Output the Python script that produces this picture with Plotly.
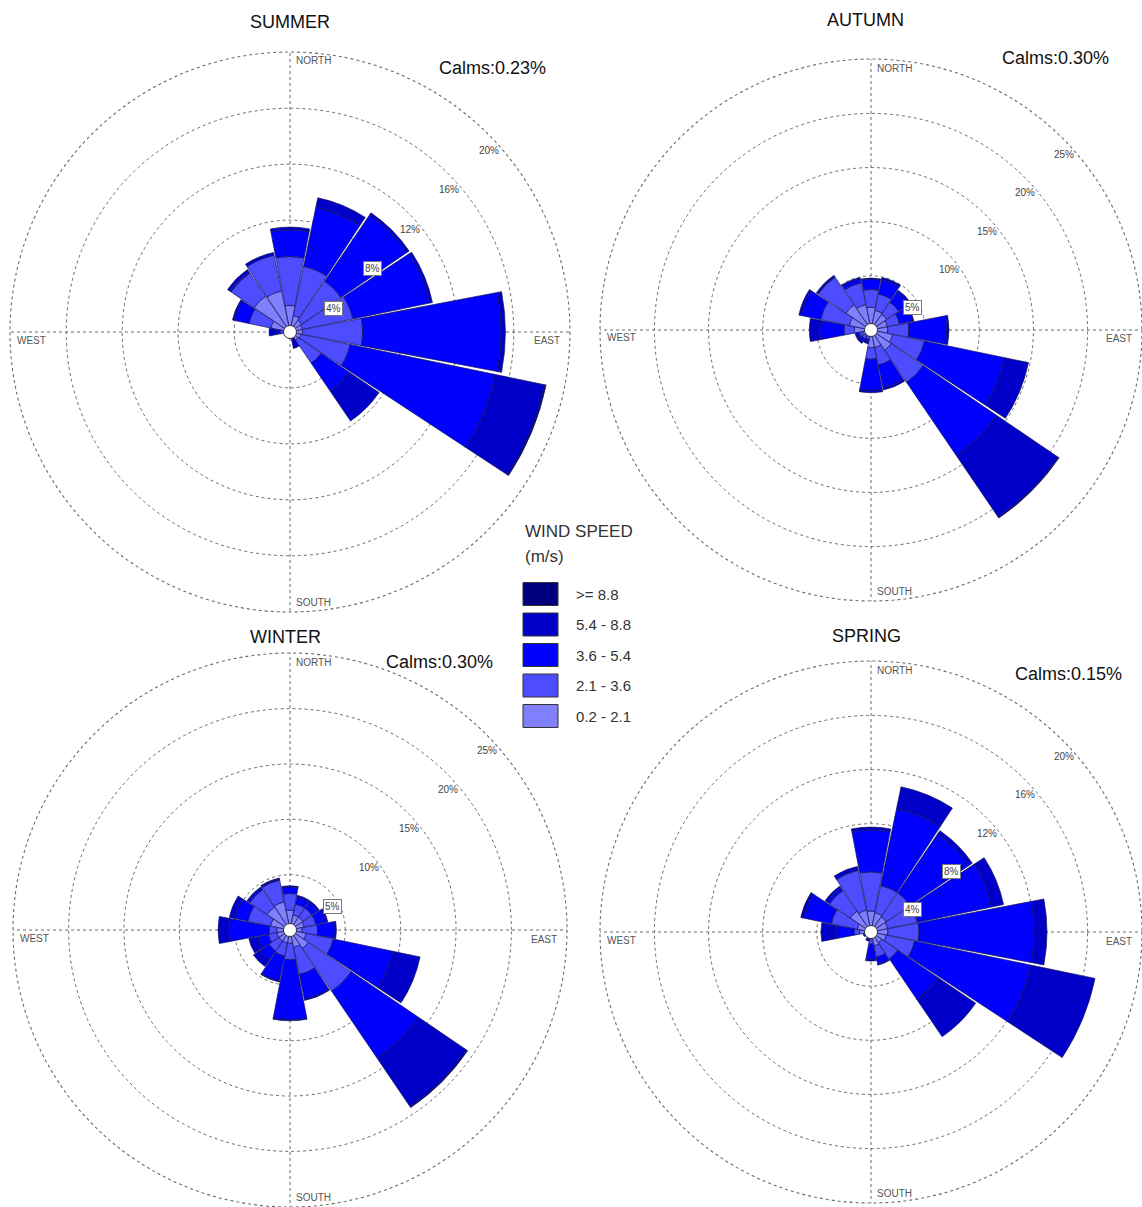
import plotly.graph_objects as go

W, H = 1142, 1207
FONT = "Arial, 'Liberation Sans', sans-serif"

directions = ["N", "NNE", "NE", "ENE", "E", "ESE", "SE", "SSE",
              "S", "SSW", "SW", "WSW", "W", "WNW", "NW", "NNW"]
dir_angles = [i * 22.5 for i in range(len(directions))]

speed_labels = ["0.2 - 2.1", "2.1 - 3.6", "3.6 - 5.4", "5.4 - 8.8", ">= 8.8"]
speed_colors = ["#8080FF", "#4D4DFF", "#0000FF", "#0000C8", "#00007F"]

# Frequency (%) per direction for each wind-speed class (N, NNE, ..., NNW)
summer_c1 = [1.9, 1.2, 1.0, 0.9, 0.9, 0.8, 0.7, 0.45, 0.2, 0.2, 0.2, 0.25, 0.5, 1.4, 3.1, 3.0]
summer_c2 = [3.5, 3.6, 3.4, 3.7, 4.3, 3.6, 2.0, 0.05, 0.05, 0.05, 0.05, 0.05, 0.2, 1.6, 2.0, 2.6]
summer_c3 = [1.9, 4.3, 5.7, 5.6, 9.9, 10.6, 2.4, 0.1, 0.05, 0.05, 0.05, 0.05, 0.3, 1.1, 0.1, 0.0]
summer_c4 = [0.2, 0.7, 0.2, 0.2, 0.3, 3.6, 2.6, 0.6, 0.0, 0.0, 0.0, 0.05, 0.5, 0.1, 0.2, 0.2]
summer_c5 = [0.0, 0.0, 0.0, 0.0, 0.0, 0.1, 0.0, 0.0, 0.0, 0.0, 0.0, 0.0, 0.0, 0.0, 0.0, 0.0]

autumn_c1 = [2.1, 1.85, 1.75, 1.55, 1.55, 2.05, 2.25, 1.65, 1.65, 0.6, 0.7, 0.8, 1.55, 2.05, 2.8, 2.4]
autumn_c2 = [1.65, 1.55, 1.35, 1.15, 1.95, 3.0, 3.6, 1.65, 1.05, 0.3, 0.3, 0.3, 0.95, 2.7, 3.1, 2.05]
autumn_c3 = [0.95, 1.35, 1.15, 1.25, 3.5, 7.55, 8.15, 2.15, 2.9, 0.2, 0.3, 0.2, 2.25, 1.85, 0.1, 0.4]
autumn_c4 = [0.1, 0.2, 0.2, 0.1, 0.2, 2.25, 6.9, 0.2, 0.2, 0.2, 0.2, 0.2, 0.95, 0.2, 0.1, 0.1]
autumn_c5 = [0.0, 0.0, 0.0, 0.0, 0.0, 0.0, 0.1, 0.0, 0.0, 0.0, 0.0, 0.0, 0.0, 0.0, 0.0, 0.0]

winter_c1 = [1.8, 1.4, 1.4, 1.3, 1.1, 1.5, 2.0, 1.6, 1.2, 1.2, 1.2, 1.2, 1.2, 1.8, 2.5, 2.6]
winter_c2 = [1.5, 1.0, 1.0, 1.1, 1.4, 2.5, 4.7, 2.5, 1.5, 1.2, 1.1, 0.8, 0.7, 2.1, 1.9, 2.0]
winter_c3 = [0.6, 0.6, 0.6, 0.9, 1.6, 5.5, 7.3, 2.3, 5.4, 2.3, 1.0, 1.0, 3.6, 1.2, 0.2, 0.1]
winter_c4 = [0.1, 0.2, 0.2, 0.2, 0.1, 2.5, 5.3, 0.1, 0.1, 0.1, 0.7, 0.8, 1.0, 0.5, 0.1, 0.1]
winter_c5 = [0.0, 0.0, 0.0, 0.0, 0.0, 0.0, 0.1, 0.0, 0.0, 0.0, 0.0, 0.0, 0.0, 0.0, 0.0, 0.0]

spring_c1 = [1.55, 1.45, 1.35, 1.25, 1.25, 1.15, 0.95, 1.05, 0.6, 0.4, 0.3, 0.4, 0.85, 1.05, 1.85, 1.65]
spring_c2 = [2.9, 2.05, 2.15, 2.25, 2.3, 2.15, 1.45, 0.85, 0.3, 0.1, 0.1, 0.05, 0.4, 1.95, 1.85, 3.0]
spring_c3 = [3.1, 5.8, 5.25, 5.6, 8.5, 8.75, 3.6, 0.5, 1.15, 0.1, 0.05, 0.05, 1.35, 2.05, 0.2, 0.0]
spring_c4 = [0.2, 1.65, 0.3, 0.9, 0.95, 4.85, 3.35, 0.1, 0.1, 0.1, 0.05, 0.1, 1.1, 0.25, 0.2, 0.3]
spring_c5 = [0.0, 0.0, 0.0, 0.0, 0.0, 0.0, 0.0, 0.0, 0.0, 0.0, 0.0, 0.0, 0.0, 0.0, 0.0, 0.0]

summer_ticks = [4, 8, 12, 16, 20]
autumn_ticks = [5, 10, 15, 20, 25]
winter_ticks = [5, 10, 15, 20, 25]
spring_ticks = [4, 8, 12, 16, 20]

calms = {"SUMMER": "0.23", "AUTUMN": "0.30", "WINTER": "0.30", "SPRING": "0.15"}

# Each rose: polar key, title, class series, ring ticks, centre (px), radius (px),
# title / calms text positions (px), number of boxed ring labels
roses = [
    dict(key="polar", name="SUMMER",
         series=[summer_c1, summer_c2, summer_c3, summer_c4, summer_c5],
         ticks=summer_ticks, cx=290, cy=332, R=280,
         title_xy=(290, 22), calms_xy=(492, 68), boxed=2),
    dict(key="polar2", name="AUTUMN",
         series=[autumn_c1, autumn_c2, autumn_c3, autumn_c4, autumn_c5],
         ticks=autumn_ticks, cx=871, cy=330, R=271,
         title_xy=(865, 20), calms_xy=(1055, 58), boxed=1),
    dict(key="polar3", name="WINTER",
         series=[winter_c1, winter_c2, winter_c3, winter_c4, winter_c5],
         ticks=winter_ticks, cx=290, cy=930, R=277,
         title_xy=(285, 637), calms_xy=(440, 662), boxed=1),
    dict(key="polar4", name="SPRING",
         series=[spring_c1, spring_c2, spring_c3, spring_c4, spring_c5],
         ticks=spring_ticks, cx=871, cy=932, R=271,
         title_xy=(866, 636), calms_xy=(1068, 674), boxed=2),
]

GRID = "#6A6A6A"


def px(x):
    return x / W


def py(y):
    return 1 - y / H


fig = go.Figure()
annotations = []
shapes = []
layout_polars = {}

for rose in roses:
    key = rose["key"]
    cx, cy, R = rose["cx"], rose["cy"], rose["R"]
    rmax = rose["ticks"][-1]

    for label, color, values in zip(speed_labels, speed_colors, rose["series"]):
        fig.add_trace(go.Barpolar(
            r=values, theta=dir_angles, width=[21.6] * len(dir_angles),
            name=label, subplot=key, showlegend=False,
            marker=dict(color=color, line=dict(color="#14145A", width=0.7)),
            hovertemplate="%{theta}°: %{r}%<extra>" + label + "</extra>",
        ))

    layout_polars[key] = dict(
        domain=dict(x=[px(cx - R), min(1, px(cx + R))],
                    y=[max(0, py(cy + R)), py(cy - R)]),
        bgcolor="white",
        barmode="stack",
        radialaxis=dict(range=[0, rmax * 1.001], tickvals=rose["ticks"],
                        showticklabels=False, ticks="", showline=False,
                        gridcolor=GRID, griddash="dot", gridwidth=1.1),
        angularaxis=dict(rotation=90, direction="clockwise",
                         tickvals=[0, 90, 180, 270], showticklabels=False,
                         ticks="", showline=False,
                         gridcolor=GRID, griddash="dot", gridwidth=1.1),
    )

    # outermost dotted ring
    shapes.append(dict(type="circle", xref="paper", yref="paper",
                       x0=px(cx - R), x1=px(cx + R),
                       y0=py(cy + R), y1=py(cy - R),
                       line=dict(color=GRID, width=1.1, dash="dot"),
                       layer="above"))

    # season title and calms
    tx, ty = rose["title_xy"]
    annotations.append(dict(x=px(tx), y=py(ty), xref="paper", yref="paper",
                            text=rose["name"], showarrow=False,
                            font=dict(family=FONT, size=18, color="#111"),
                            xanchor="center", yanchor="middle"))
    kx, ky = rose["calms_xy"]
    annotations.append(dict(x=px(kx), y=py(ky), xref="paper", yref="paper",
                            text="Calms:" + calms[rose["name"]] + "%",
                            showarrow=False,
                            font=dict(family=FONT, size=18, color="#111"),
                            xanchor="center", yanchor="middle"))

    # compass labels
    small = dict(family=FONT, size=10, color="#555")
    annotations += [
        dict(x=px(cx + 4), y=py(cy - R + 9), text="NORTH", xanchor="left"),
        dict(x=px(cx + 4), y=py(cy + R - 10), text="SOUTH", xanchor="left"),
        dict(x=px(cx - R + 5), y=py(cy + 8), text="WEST", xanchor="left"),
        dict(x=px(cx + R - 8), y=py(cy + 9), text="EAST", xanchor="right"),
    ]
    for a in annotations[-4:]:
        a.update(xref="paper", yref="paper", showarrow=False, font=small,
                 yanchor="middle")

    # ring percentage labels along the north-east diagonal
    for i, t in enumerate(rose["ticks"]):
        rp = t / rmax * R
        lx = cx + rp * 0.7071 + 13
        ly = cy - rp * 0.7071 + 16
        ann = dict(x=px(lx), y=py(ly), xref="paper", yref="paper",
                   text=f"{t}%", showarrow=False,
                   font=dict(family=FONT, size=10, color="#444"),
                   xanchor="right", yanchor="middle")
        if i < rose["boxed"]:
            ann.update(bgcolor="white", bordercolor="#777", borderwidth=1,
                       borderpad=1)
        annotations.append(ann)

    # calm-centre circle
    hr = 6.5
    shapes.append(dict(type="circle", xref="paper", yref="paper",
                       x0=px(cx - hr), x1=px(cx + hr),
                       y0=py(cy + hr), y1=py(cy - hr),
                       fillcolor="white", line=dict(color="#333", width=1),
                       layer="above"))

# wind-speed key
annotations.append(dict(x=px(523), y=py(531), xref="paper", yref="paper",
                        text="WIND SPEED", showarrow=False,
                        font=dict(family=FONT, size=17, color="#333"),
                        xanchor="left", yanchor="middle"))
annotations.append(dict(x=px(523), y=py(556), xref="paper", yref="paper",
                        text="(m/s)", showarrow=False,
                        font=dict(family=FONT, size=17, color="#333"),
                        xanchor="left", yanchor="middle"))
key_rows = list(zip(speed_labels, speed_colors))[::-1]
for j, (label, color) in enumerate(key_rows):
    yc = 594 + j * 30.5
    shapes.append(dict(type="rect", xref="paper", yref="paper",
                       x0=px(523), x1=px(558), y0=py(yc + 11.5), y1=py(yc - 11.5),
                       fillcolor=color, line=dict(color="#333", width=1)))
    annotations.append(dict(x=px(574), y=py(yc), xref="paper", yref="paper",
                            text=label, showarrow=False,
                            font=dict(family=FONT, size=15, color="#333"),
                            xanchor="left", yanchor="middle"))

fig.update_layout(
    width=W, height=H,
    margin=dict(l=0, r=0, t=0, b=0),
    paper_bgcolor="white",
    plot_bgcolor="white",
    showlegend=False,
    annotations=annotations,
    shapes=shapes,
    **layout_polars,
)

fig.write_html("out.html")
